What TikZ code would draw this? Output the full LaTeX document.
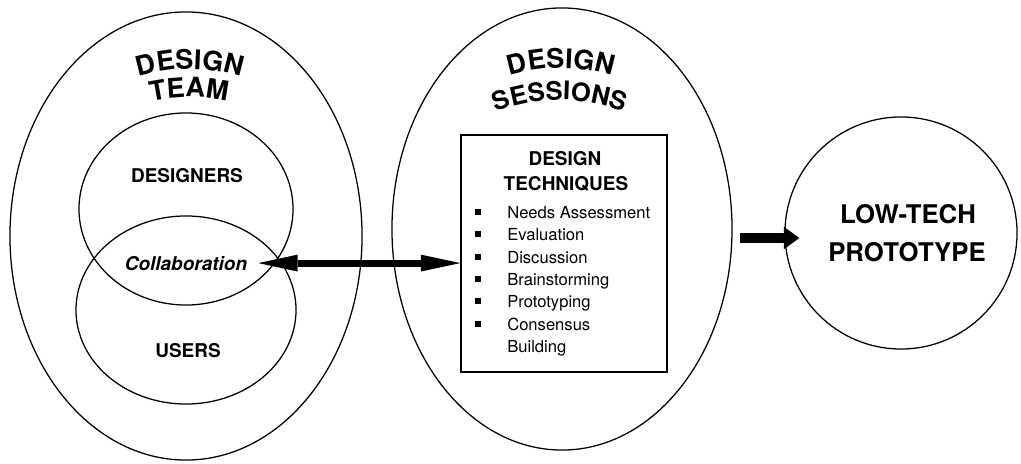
\documentclass[tikz,border=0pt]{standalone}
\usepackage{fontspec}
\setmainfont{TeX Gyre Heros}
\usetikzlibrary{shapes.geometric,arrows.meta,decorations.text}
\newcommand\arcfont{\bfseries\fontsize{19.2}{22}\selectfont}
\newcommand\arcsmall{\bfseries\fontsize{18.2}{21}\selectfont}

\begin{document}
\begin{tikzpicture}[x=0.025cm,y=0.025cm,
  ring/.style={draw,ellipse,line width=0.9pt,inner sep=0pt},
  heading/.style={font=\bfseries\fontsize{13.5}{16}\selectfont,anchor=base,inner sep=0pt},
  listitem/.style={font=\fontsize{11.8}{14}\selectfont,anchor=base west,inner sep=0pt},
  bulletbox/.style={fill,rectangle,inner sep=0pt,minimum size=0.13cm},
  bigtext/.style={font=\bfseries\fontsize{18.3}{22}\selectfont,anchor=base,inner sep=0pt},
  arctext/.style={decorate,decoration={text along path,text align=center,text={|\arcfont|#1}}},
  arcsmalltext/.style={decorate,decoration={text along path,text align=center,text={|\arcsmall|#1}}},
  twoway/.style={line width=5pt,{Triangle[length=28pt,width=12pt,line width=0pt]}-{Triangle[length=28pt,width=12pt,line width=0pt]}},
  oneway/.style={line width=7pt,-{Triangle[length=11pt,width=16pt,line width=0pt]}}]

\useasboundingbox (0,0) rectangle (1021,463);

% design team
\node[ring,minimum width=8.8cm,minimum height=11.2cm] (team) at (186,227) {};
\node[ring,minimum width=5.35cm,minimum height=4.8cm] (designers) at (186,254) {};
\node[ring,minimum width=5.5cm,minimum height=4.7cm] (users) at (186,153) {};
\path[arctext=DESIGN] (190,224) ++(120:170) arc[start angle=120,end angle=60,radius=170];
\path[arctext=TEAM] (189,196) ++(120:170) arc[start angle=120,end angle=60,radius=170];
\node[heading] (designerslabel) at (187,281) {DESIGNERS};
\node[heading,font=\bfseries\itshape\fontsize{13.5}{16}\selectfont,inner xsep=0.27cm] (collab) at (186,193) {Collaboration};
\node[heading] (userslabel) at (188,106) {USERS};

% design sessions
\node[ring,minimum width=8.5cm,minimum height=11.05cm] (sessions) at (562,234) {};
\path[arctext=DESIGN] (561,225) ++(120:170) arc[start angle=120,end angle=60,radius=170];
\path[arcsmalltext=SESSIONS] (560,183) ++(120:180) arc[start angle=120,end angle=60,radius=180];
\node[draw,line width=0.9pt,minimum width=5.15cm,minimum height=5.925cm] (techbox) at (564,209.5) {};
\node[heading] (techtitle) at (565,298) {DESIGN};
\node[heading] (techsub) at (566,273) {TECHNIQUES};

% technique list
\node[bulletbox] (b1) at (478,251) {};
\node[listitem] (t1) at (507,245) {Needs Assessment};
\node[bulletbox] (b2) at (478,229) {};
\node[listitem] (t2) at (507,223) {Evaluation};
\node[bulletbox] (b3) at (478,206) {};
\node[listitem] (t3) at (507,200) {Discussion};
\node[bulletbox] (b4) at (478,184) {};
\node[listitem] (t4) at (507,178) {Brainstorming};
\node[bulletbox] (b5) at (478,162) {};
\node[listitem] (t5) at (507,156) {Prototyping};
\node[bulletbox] (b6) at (478,139) {};
\node[listitem] (t6) at (507,133) {Consensus};
\node[listitem] (t7) at (507,111) {Building};

% prototype
\node[ring,circle,minimum size=5.8cm] (proto) at (901,230) {};
\node[bigtext] (lowtech) at (908,240) {LOW-TECH};
\node[bigtext] (prototype) at (907,202) {PROTOTYPE};

% arrows
\draw[twoway] (collab.east) -- (collab.east -| techbox.west);
\coordinate (sessout) at (740,225);
\draw[oneway] (sessout) -- ([xshift=0.375cm]sessout -| proto.west);

\end{tikzpicture}
\end{document}
